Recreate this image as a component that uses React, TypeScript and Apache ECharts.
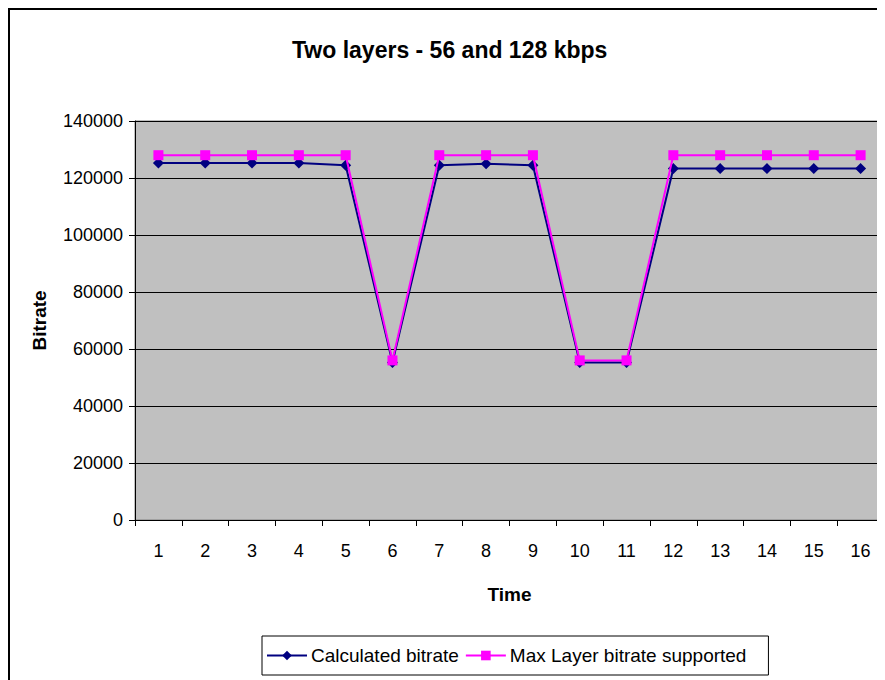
import React, { useEffect, useRef } from "react";
import * as echarts from "echarts";

const timeLabels = ["1", "2", "3", "4", "5", "6", "7", "8", "9", "10", "11", "12", "13", "14", "15", "16"];
const calculatedBitrate = [125300, 125300, 125300, 125300, 124500, 55300, 124500, 125000, 124500, 55300, 55300, 123300, 123300, 123300, 123300, 123300];
const maxLayerBitrate = [128000, 128000, 128000, 128000, 128000, 56000, 128000, 128000, 128000, 56000, 56000, 128000, 128000, 128000, 128000, 128000];

const FONT = "Liberation Sans, Arial, sans-serif";

export default function App() {
  const ref = useRef<HTMLDivElement>(null);
  useEffect(() => {
    if (!ref.current) return;
    const chart = echarts.init(ref.current, null, { renderer: "svg" });
    chart.setOption({
      animation: false,
      backgroundColor: "#ffffff",
      title: {
        text: "Two layers - 56 and 128 kbps",
        left: 277,
        top: 23,
        textStyle: { fontFamily: FONT, fontSize: 23, fontWeight: "bold", color: "#000" },
      },
      grid: {
        left: 125,
        top: 111,
        right: 1,
        bottom: 160,
        show: true,
        backgroundColor: "#C0C0C0",
        borderColor: "#808080",
        borderWidth: 1,
      },
      legend: {
        left: 252,
        top: 626,
        backgroundColor: "#fff",
        borderColor: "#000",
        borderWidth: 1,
        padding: [10, 22, 10, 4],
        itemGap: 6,
        itemWidth: 40,
        itemHeight: 12,
        textStyle: { fontFamily: FONT, fontSize: 19, color: "#000", padding: [0, 0, 0, -1] },
        data: ["Calculated bitrate", "Max Layer bitrate supported"],
      },
      xAxis: {
        type: "category",
        data: timeLabels,
        boundaryGap: true,
        name: "Time",
        nameLocation: "middle",
        nameGap: 65,
        nameTextStyle: { fontFamily: FONT, fontSize: 19, fontWeight: "bold", color: "#000" },
        axisLine: { lineStyle: { color: "#000", width: 1 } },
        axisTick: { show: true, inside: false, length: 6, alignWithLabel: false, lineStyle: { color: "#000" } },
        axisLabel: { fontFamily: FONT, fontSize: 18, color: "#000", margin: 22 },
        splitLine: { show: false },
      },
      yAxis: {
        type: "value",
        min: 0,
        max: 140000,
        interval: 20000,
        name: "Bitrate",
        nameLocation: "middle",
        nameGap: 86,
        nameRotate: 90,
        nameTextStyle: { fontFamily: FONT, fontSize: 19, fontWeight: "bold", color: "#000" },
        axisLine: { show: true, lineStyle: { color: "#000", width: 1 } },
        axisTick: { show: true, length: 6, lineStyle: { color: "#000" } },
        axisLabel: { fontFamily: FONT, fontSize: 18, color: "#000", margin: 12, formatter: (v: number) => String(v) },
        splitLine: { show: true, lineStyle: { color: "#000", width: 1 } },
      },
      series: [
        {
          name: "Calculated bitrate",
          type: "line",
          data: calculatedBitrate,
          symbol: "diamond",
          symbolSize: 11,
          lineStyle: { color: "#000080", width: 2 },
          itemStyle: { color: "#000080" },
          z: 2,
        },
        {
          name: "Max Layer bitrate supported",
          type: "line",
          data: maxLayerBitrate,
          symbol: "rect",
          symbolSize: 10,
          lineStyle: { color: "#FF00FF", width: 2 },
          itemStyle: { color: "#FF00FF" },
          z: 3,
        },
      ],
    });
    return () => chart.dispose();
  }, []);
  return (
    <div
      style={{
        width: 877,
        height: 672,
        boxSizing: "border-box",
        borderTop: "2px solid #000",
        borderLeft: "2px solid #000",
        overflow: "hidden",
      }}
    >
      <div ref={ref} style={{ width: 875, height: 670 }} />
    </div>
  );
}
